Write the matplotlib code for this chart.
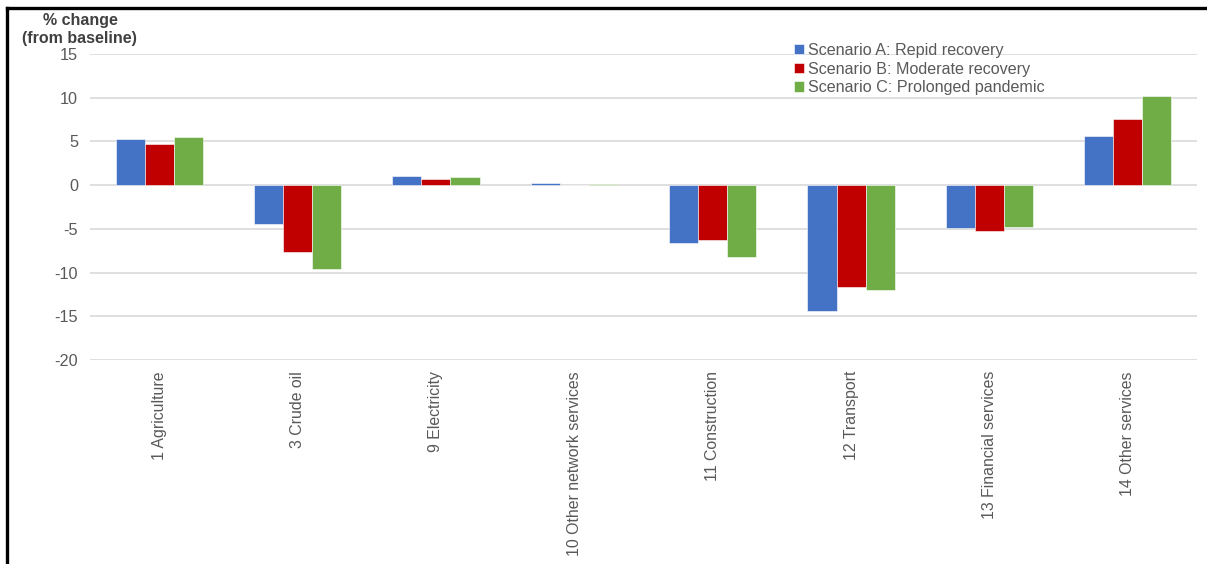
import matplotlib
matplotlib.use("Agg")
import matplotlib.pyplot as plt
import numpy as np
from matplotlib.lines import Line2D

plt.rcParams['font.family'] = ['Liberation Sans', 'DejaVu Sans']

categories = ["1 Agriculture", "3 Crude oil", "9 Electricity", "10 Other network services",
              "11 Construction", "12 Transport", "13 Financial services", "14 Other services"]
series_names = ["Scenario A: Repid recovery", "Scenario B: Moderate recovery",
                "Scenario C: Prolonged pandemic"]
scenario_a = [5.25, -4.5, 1.1, 0.25, -6.6, -14.4, -4.9, 5.6]
scenario_b = [4.75, -7.6, 0.7, 0.0, -6.3, -11.6, -5.2, 7.6]
scenario_c = [5.5, -9.6, 0.9, 0.1, -8.2, -12.0, -4.8, 10.15]
yticks = [15, 10, 5, 0, -5, -10, -15, -20]
colors = ["#4472C4", "#C00000", "#70AD47"]

fig = plt.figure(figsize=(12.07, 5.64), dpi=100)
ax = fig.add_axes([90/1207, 1-360/564, (1197-90)/1207, (360-54)/564])

x = np.arange(len(categories))
w = 0.21
for i, (vals, c, name) in enumerate(zip([scenario_a, scenario_b, scenario_c], colors, series_names)):
    ax.bar(x + (i-1)*w, vals, width=w, color=c, label=name, zorder=3,
           edgecolor='white', linewidth=0.4)

ax.set_xlim(-0.5, len(categories)-0.5)
ax.set_ylim(-20, 15)
ax.set_yticks(yticks)
ax.set_yticklabels([str(t) for t in yticks])
ax.grid(axis='y', color='#d9d9d9', linewidth=1.2, zorder=0)
ax.set_axisbelow(True)
for s in ax.spines.values():
    s.set_visible(False)
ax.tick_params(axis='y', length=0, colors='#595959', labelsize=11.7, pad=8.5)
ax.set_xticks(x)
ax.set_xticklabels(categories, rotation=90, va='top', ha='center')
ax.tick_params(axis='x', length=0, colors='#595959', labelsize=11.4, pad=8)

fig.text(80/1207, 1-20/564, "% change", ha='center', va='center', fontsize=11.5,
         fontweight='bold', color='#404040')
fig.text(79/1207, 1-38/564, "(from baseline)", ha='center', va='center', fontsize=11.5,
         fontweight='bold', color='#404040')

leg = fig.legend(loc='upper left', bbox_to_anchor=(794/1207, 1-43/564), frameon=False,
                 fontsize=11.6, handlelength=0.6, handleheight=0.6, handletextpad=0.25,
                 labelspacing=0.22, borderaxespad=0, borderpad=0)
for t in leg.get_texts():
    t.set_color('#595959')

fig.add_artist(Line2D([7/1207, 7/1207], [0, 1-8/564], color='black', linewidth=2.4,
                      transform=fig.transFigure))
fig.add_artist(Line2D([7/1207, 1], [1-8/564, 1-8/564], color='black', linewidth=2.4,
                      transform=fig.transFigure))

fig.savefig("out.png", dpi=100, facecolor='white')
